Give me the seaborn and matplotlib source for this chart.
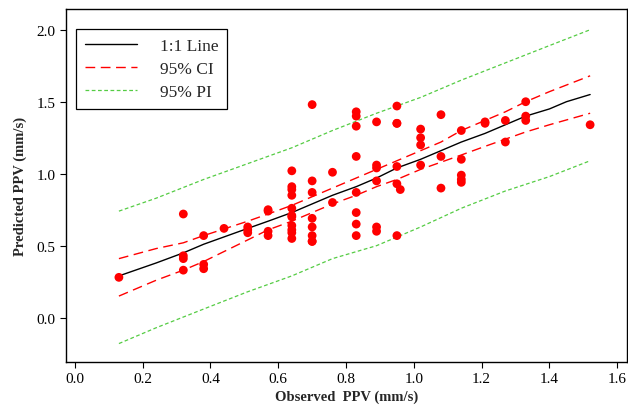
import matplotlib
matplotlib.use("Agg")
import matplotlib.pyplot as plt
import seaborn as sns
import pandas as pd

# Observed / predicted PPV (mm/s)
observed = [0.13, 0.32, 0.32, 0.32, 0.32, 0.38, 0.38, 0.38, 0.44, 0.51, 0.51, 0.51,
            0.57, 0.57, 0.57, 0.57,
            0.64, 0.64, 0.64, 0.64, 0.64, 0.64, 0.64, 0.64, 0.64, 0.64, 0.64,
            0.70, 0.70, 0.70, 0.70, 0.70, 0.70, 0.70, 0.70,
            0.76, 0.76,
            0.83, 0.83, 0.83, 0.83, 0.83, 0.83, 0.83, 0.83,
            0.89, 0.89, 0.89, 0.89, 0.89, 0.89,
            0.95, 0.95, 0.95, 0.95, 0.95, 0.96, 0.95,
            1.02, 1.02, 1.02, 1.02,
            1.08, 1.08, 1.08,
            1.14, 1.14, 1.14, 1.14, 1.14,
            1.21, 1.21, 1.27, 1.27, 1.33, 1.33, 1.33, 1.52]
predicted = [0.28, 0.72, 0.43, 0.41, 0.33, 0.57, 0.37, 0.34, 0.62, 0.63, 0.61, 0.59,
             0.75, 0.74, 0.60, 0.57,
             1.02, 0.91, 0.89, 0.85, 0.76, 0.71, 0.70, 0.64, 0.61, 0.59, 0.55,
             1.48, 0.95, 0.87, 0.69, 0.63, 0.57, 0.53, 0.53,
             1.01, 0.80,
             1.43, 1.40, 1.33, 1.12, 0.87, 0.73, 0.65, 0.57,
             1.36, 1.06, 1.04, 0.95, 0.63, 0.60,
             1.47, 1.35, 1.35, 1.05, 0.93, 0.89, 0.57,
             1.31, 1.25, 1.20, 1.06,
             1.41, 1.12, 0.90,
             1.30, 1.10, 0.99, 0.96, 0.94,
             1.36, 1.35, 1.37, 1.22, 1.50, 1.40, 1.37, 1.34]

# Fitted line and confidence / prediction bands
fit_x = [0.13, 0.24, 0.32, 0.38, 0.51, 0.57, 0.64, 0.70, 0.76, 0.83, 0.89, 0.95,
         1.02, 1.08, 1.14, 1.21, 1.27, 1.33, 1.40, 1.45, 1.52]
fit_y = [0.29, 0.38, 0.45, 0.51, 0.62, 0.67, 0.73, 0.79, 0.85, 0.91, 0.97, 1.04,
         1.10, 1.16, 1.22, 1.28, 1.34, 1.40, 1.45, 1.50, 1.55]
ci_x = [0.13, 0.24, 0.32, 0.38, 0.51, 0.57, 0.64, 0.70, 0.76, 0.83, 0.89, 0.95,
        1.02, 1.08, 1.14, 1.21, 1.27, 1.33, 1.40, 1.52]
ci_upper = [0.41, 0.48, 0.52, 0.57, 0.67, 0.72, 0.78, 0.84, 0.90, 0.97, 1.03, 1.09,
            1.16, 1.22, 1.30, 1.37, 1.43, 1.50, 1.57, 1.68]
ci_lower = [0.15, 0.26, 0.33, 0.39, 0.54, 0.61, 0.67, 0.73, 0.79, 0.85, 0.91, 0.96,
            1.03, 1.08, 1.13, 1.19, 1.24, 1.29, 1.34, 1.42]
pi_x = [0.13, 0.24, 0.38, 0.51, 0.64, 0.76, 0.89, 1.02, 1.14, 1.27, 1.40, 1.52]
pi_upper = [0.74, 0.83, 0.96, 1.07, 1.18, 1.30, 1.42, 1.53, 1.65, 1.77, 1.89, 2.00]
pi_lower = [-0.18, -0.07, 0.06, 0.18, 0.29, 0.41, 0.50, 0.63, 0.76, 0.88, 0.98, 1.09]

xticks = [0.0, 0.2, 0.4, 0.6, 0.8, 1.0, 1.2, 1.4, 1.6]
yticks = [0.0, 0.5, 1.0, 1.5, 2.0]

sns.set_theme(style="ticks")
plt.rcParams['font.family'] = ['Liberation Serif', 'DejaVu Serif']

fig = plt.figure(figsize=(6.28, 4.14), dpi=100)
ax = fig.add_axes([0.1046, 0.1232, 0.8934, 0.8526])

pts = pd.DataFrame({"obs": observed, "pred": predicted})
sns.scatterplot(data=pts, x="obs", y="pred", ax=ax, color="#ff0000", s=40,
                edgecolor="none", linewidth=0, zorder=3)

sns.lineplot(x=fit_x, y=fit_y, ax=ax, color="black", lw=1.0, label="1:1 Line",
             estimator=None, sort=False)
sns.lineplot(x=ci_x, y=ci_upper, ax=ax, color="#ff0000", lw=1.0, label="95% CI",
             estimator=None, sort=False)
ax.lines[-1].set_dashes([7, 4])
sns.lineplot(x=ci_x, y=ci_lower, ax=ax, color="#ff0000", lw=1.0, estimator=None, sort=False)
ax.lines[-1].set_dashes([7, 4])
sns.lineplot(x=pi_x, y=pi_upper, ax=ax, color="#55cc44", lw=0.9, label="95% PI",
             estimator=None, sort=False)
ax.lines[-1].set_dashes([3, 2])
sns.lineplot(x=pi_x, y=pi_lower, ax=ax, color="#55cc44", lw=0.9, estimator=None, sort=False)
ax.lines[-1].set_dashes([3, 2])

ax.set_xlim(-0.027, 1.628)
ax.set_ylim(-0.308, 2.144)
ax.set_xticks(xticks)
ax.set_xticklabels([f"{t:.1f}" for t in xticks])
ax.set_yticks(yticks)
ax.set_yticklabels([f"{t:.1f}" for t in yticks])
ax.tick_params(labelsize=11, direction="out", length=4, width=0.8, colors="black")
for sp in ax.spines.values():
    sp.set_visible(True)
    sp.set_color("black")
    sp.set_linewidth(1.0)

ax.set_xlabel("Observed  PPV (mm/s)", fontsize=10.5, fontweight="bold", labelpad=3)
ax.set_ylabel("Predicted PPV (mm/s)", fontsize=10.5, fontweight="bold", labelpad=7)

leg = ax.legend(loc="upper left", bbox_to_anchor=(0.0035, 0.968), fontsize=12.5,
                frameon=True, fancybox=False, edgecolor="black", framealpha=1,
                handlelength=3.0, borderpad=0.5, labelspacing=0.4, handletextpad=1.3)
leg.get_frame().set_linewidth(0.9)

fig.savefig("out.png", dpi=100)
